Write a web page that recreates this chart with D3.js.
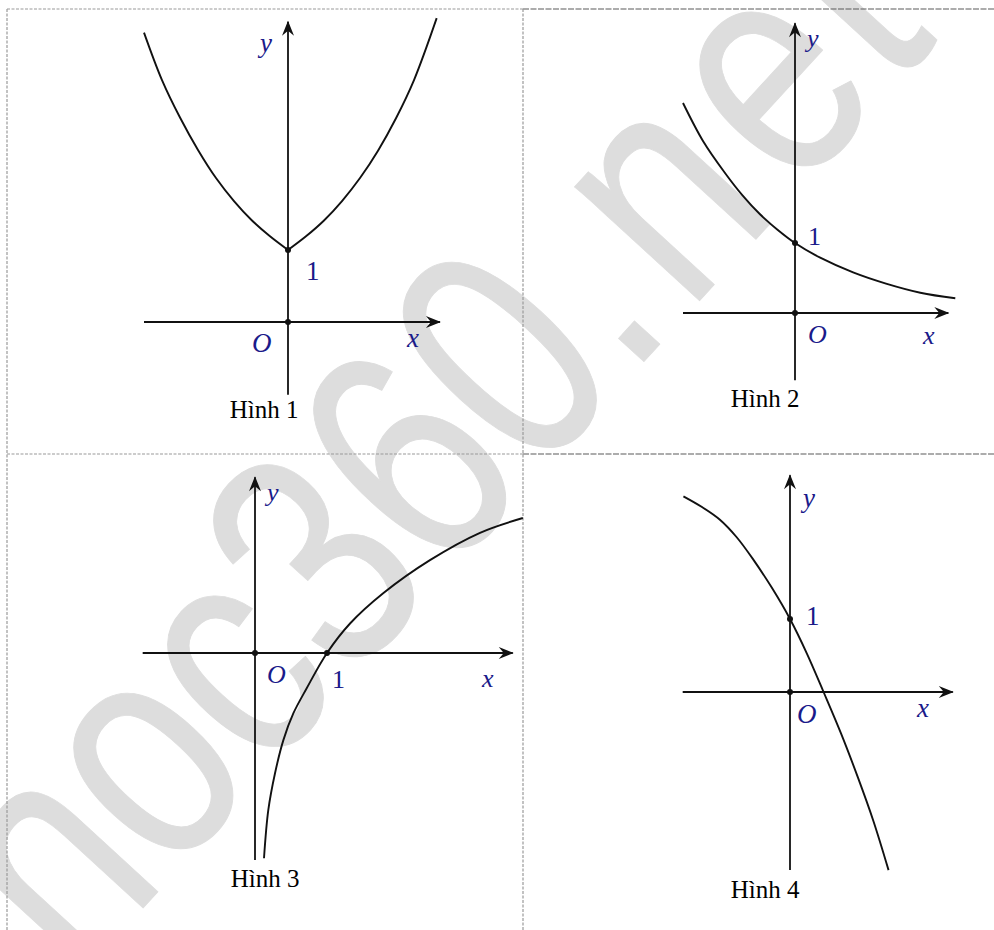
<!DOCTYPE html>
<html>
<head>
<meta charset="utf-8">
<script src="https://cdn.jsdelivr.net/npm/d3@7"></script>
<style>
  html, body { margin: 0; padding: 0; background: #fff; }
  svg { display: block; }
</style>
</head>
<body>
<script>
// ---------------- DATA ----------------
const WATERMARK = "hoc360.net";
const figureCaptions = ["Hình 1", "Hình 2", "Hình 3", "Hình 4"];
const axisNames = ["x", "y"];
const originName = "O";
const unitLabel = "1";

// Hình 1 : two branches meeting at (0,1)
const fig1LeftX  = [-2.0, -1.75, -1.5, -1.25, -1.0, -0.75, -0.5, -0.25, 0];
const fig1LeftY  = [4.02, 3.36, 2.84, 2.39, 2.0, 1.68, 1.41, 1.19, 1.0];
const fig1RightX = [0, 0.25, 0.5, 0.75, 1.0, 1.25, 1.5, 1.75, 2.065];
const fig1RightY = [1.0, 1.19, 1.41, 1.68, 2.0, 2.38, 2.83, 3.36, 4.22];

// Hình 2 : decreasing curve through (0,1)
const fig2X = [-1.6, -1.31, -1.0, -0.75, -0.5, -0.25, 0, 0.36, 0.83, 1.3, 1.79, 2.29];
const fig2Y = [3.0, 2.45, 2.0, 1.68, 1.41, 1.19, 1.0, 0.79, 0.58, 0.42, 0.29, 0.21];

// Hình 3 : increasing curve through (1,0)
const fig3X = [0.125, 0.185, 0.278, 0.394, 0.532, 0.718, 1.0, 1.32, 1.78, 2.43, 3.125, 3.72];
const fig3Y = [-2.85, -2.18, -1.67, -1.21, -0.84, -0.49, 0, 0.41, 0.83, 1.29, 1.67, 1.875];

// Hình 4 : decreasing curve through (0,1)
const fig4X = [-1.46, -1.2, -0.96, -0.73, -0.5, -0.25, 0, 0.23, 0.46, 0.7, 0.93, 1.14, 1.35];
const fig4Y = [2.68, 2.53, 2.36, 2.12, 1.81, 1.43, 1.0, 0.53, 0, -0.57, -1.17, -1.76, -2.44];

// ---------------- LAYOUT ----------------
const W = 994, H = 930;
const ink = "#111";
const labelBlue = "#1a1a8a";

const panels = [
  { ox: 288, oy: 322, ux: 72, uy: 72, xDom: [-2.0, 2.11], yDom: [-1.01, 4.17],
    series: [[fig1LeftX, fig1LeftY], [fig1RightX, fig1RightY]], dots: [[0,0],[0,1]],
    lab: { y: [-28, -270], one: [18, -42], O: [-36, 30], x: [119, 25] },
    cap: [264, 418], fs: 27 },
  { ox: 795, oy: 313, ux: 70, uy: 70, xDom: [-1.6, 2.19], yDom: [-0.96, 4.14],
    series: [[fig2X, fig2Y]], dots: [[0,0],[0,1]],
    lab: { y: [12, -266], one: [13, -68], O: [13, 30], x: [128, 31] },
    cap: [765, 407], fs: 26 },
  { ox: 255, oy: 653, ux: 72, uy: 72, xDom: [-1.56, 3.58], yDom: [-2.875, 2.44],
    series: [[fig3X, fig3Y]], dots: [[0,0],[1,0]],
    lab: { y: [12, -152], one: [77, 35], O: [12, 30], x: [227, 34] },
    cap: [265, 887], fs: 26 },
  { ox: 790, oy: 692, ux: 73, uy: 73, xDom: [-1.47, 2.23], yDom: [-2.44, 2.97],
    series: [[fig4X, fig4Y]], dots: [[0,0],[0,1]],
    lab: { y: [13, -185], one: [16, -67], O: [7, 31], x: [127, 25] },
    cap: [765, 898], fs: 27 }
];

// ---------------- DRAW ----------------
const svg = d3.select("body").append("svg")
  .attr("width", W).attr("height", H)
  .attr("viewBox", `0 0 ${W} ${H}`);

svg.append("defs").append("marker")
  .attr("id", "arrow")
  .attr("viewBox", "-16 -8 18 16")
  .attr("refX", 0).attr("refY", 0)
  .attr("markerWidth", 18).attr("markerHeight", 16)
  .attr("markerUnits", "userSpaceOnUse")
  .attr("orient", "auto")
  .append("path")
  .attr("d", "M1,0 L-14,-6 L-9,0 L-14,6 Z")
  .attr("fill", ink);

// watermark
const WM_FS = 320;
const wmG = svg.append("g");
const wmT = wmG.append("text")
  .attr("x", 0).attr("y", 0)
  .attr("dx", "0 0 0 0 0 0 0 24 24 8")
  .attr("font-family", "Liberation Sans, Arial, sans-serif")
  .attr("font-size", WM_FS)
  .attr("fill", "#dddddd")
  .attr("stroke", "#dddddd")
  .attr("stroke-width", 1)
  .attr("stroke-linejoin", "round")
  .text(WATERMARK);
{
  const ext = wmT.node().getExtentOfChar(6); // the "."
  const cx = ext.x + ext.width / 2, cy = -0.05 * WM_FS;
  wmG.attr("transform", `translate(640,342) rotate(-47.5) scale(0.78,1) translate(${-cx},${-cy})`);
}

// frame (dashed table borders)
const frame = svg.append("g").attr("fill", "none").attr("stroke-width", 1.2);
const lightDash = { c: "#9a9a9a", d: "3,1.5" };
const darkDash = { c: "#5a5a5a", d: "6,1.5" };
[
  [7, 9, 523, 9, lightDash], [523, 9, 994, 9, darkDash],
  [7, 454, 523, 454, lightDash], [523, 454, 994, 454, darkDash],
  [7, 9, 7, 930, lightDash], [523, 9, 523, 930, lightDash]
].forEach(([x1, y1, x2, y2, s]) => {
  frame.append("line").attr("x1", x1).attr("y1", y1).attr("x2", x2).attr("y2", y2)
    .attr("stroke", s.c).attr("stroke-dasharray", s.d);
});

panels.forEach((p, i) => {
  const x = d3.scaleLinear().domain([0, 1]).range([p.ox, p.ox + p.ux]);
  const y = d3.scaleLinear().domain([0, 1]).range([p.oy, p.oy - p.uy]);
  const g = svg.append("g");

  // axes
  g.append("line").attr("x1", x(p.xDom[0])).attr("y1", y(0)).attr("x2", x(p.xDom[1])).attr("y2", y(0))
    .attr("stroke", ink).attr("stroke-width", 1.8).attr("marker-end", "url(#arrow)");
  g.append("line").attr("x1", x(0)).attr("y1", y(p.yDom[0])).attr("x2", x(0)).attr("y2", y(p.yDom[1]))
    .attr("stroke", ink).attr("stroke-width", 1.8).attr("marker-end", "url(#arrow)");

  // curves
  const line = d3.line().x(d => x(d[0])).y(d => y(d[1])).curve(d3.curveCatmullRom.alpha(0.5));
  p.series.forEach(([xs, ys]) => {
    g.append("path").attr("d", line(xs.map((v, k) => [v, ys[k]])))
      .attr("fill", "none").attr("stroke", ink).attr("stroke-width", 1.9);
  });

  // dots
  p.dots.forEach(([a, b]) => {
    g.append("circle").attr("cx", x(a)).attr("cy", y(b)).attr("r", 3).attr("fill", ink);
  });

  // labels
  const serif = "Liberation Serif, Times New Roman, serif";
  const L = p.lab;
  const addLab = (txt, off, italic) => g.append("text")
    .attr("x", p.ox + off[0]).attr("y", p.oy + off[1])
    .attr("font-family", serif).attr("font-size", p.fs)
    .attr("font-style", italic ? "italic" : "normal")
    .attr("fill", labelBlue).text(txt);
  addLab(axisNames[1], L.y, true);
  addLab(unitLabel, L.one, false);
  addLab(originName, L.O, true);
  addLab(axisNames[0], L.x, true);

  g.append("text").attr("x", p.cap[0]).attr("y", p.cap[1])
    .attr("text-anchor", "middle")
    .attr("font-family", serif).attr("font-size", 25)
    .attr("fill", "#000").text(figureCaptions[i]);
});
</script>
</body>
</html>
